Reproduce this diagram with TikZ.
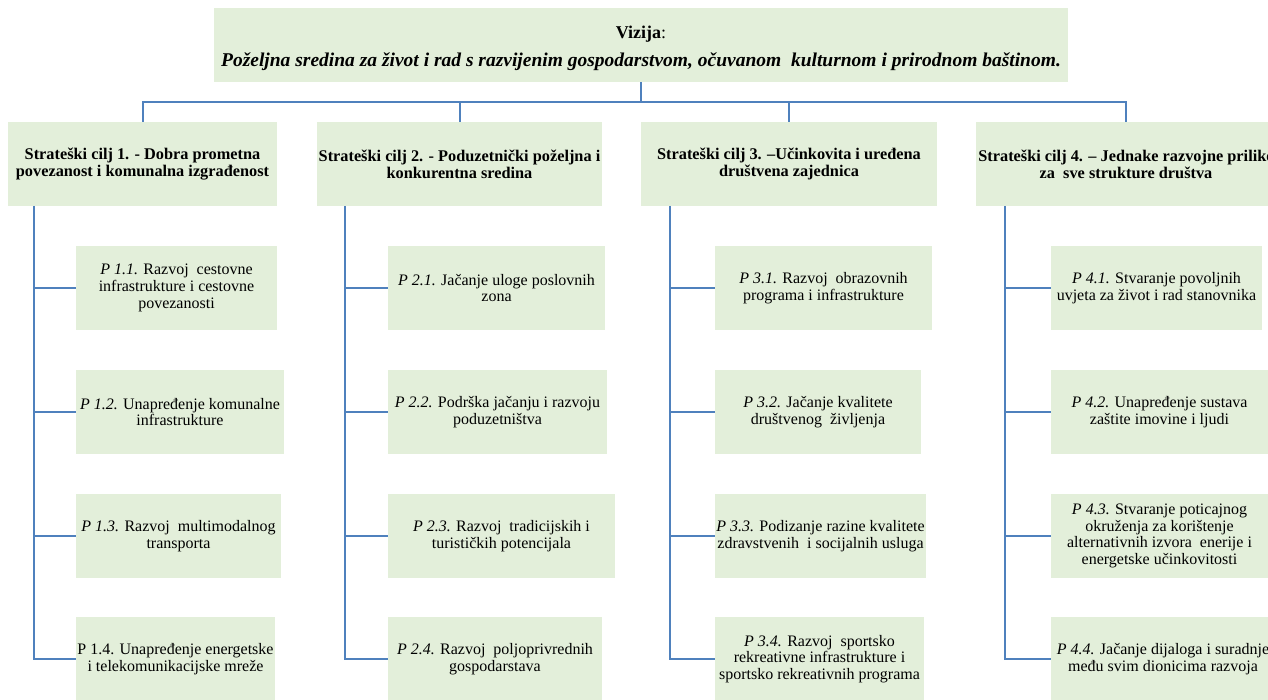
\documentclass[tikz,border=0pt]{standalone}
\usepackage{fontspec}
\setmainfont{Liberation Serif}
\definecolor{boxfill}{HTML}{E3EFDA}
\definecolor{linecol}{HTML}{4F81BD}
\tikzset{
  box/.style={fill=boxfill, draw=none, align=center, inner sep=1pt,
    font=\fontsize{16}{16.8}\selectfont},
  goalbox/.style={box, font=\fontsize{16.3}{17.2}\selectfont\bfseries,
    minimum height=84pt},
  subbox/.style={box, minimum height=84pt},
  conn/.style={draw=linecol, line width=2pt}
}
\begin{document}
\begin{tikzpicture}[x=1pt,y=-1pt]
\useasboundingbox (0,0) rectangle (1268,700);
% vision
\node[box, minimum width=854pt, minimum height=74pt] (top) at (641,45)
  {{\fontsize{18}{19}\selectfont\rule{0pt}{19pt}\textbf{Vizija}:}\\[9pt]
   {\fontsize{19.5}{20}\selectfont\bfseries\itshape Poželjna sredina za život i rad s razvijenim gospodarstvom, očuvanom\ \ kulturnom i prirodnom baštinom.}};
% goals
\node[goalbox, minimum width=269pt] (g1) at (142.5,164)
  {Strateški cilj 1. - Dobra prometna\\povezanost i komunalna izgrađenost};
\node[goalbox, minimum width=285pt] (g2) at (459.5,164)
  {Strateški cilj 2. - Poduzetnički poželjna i\\konkurentna sredina};
\node[goalbox, minimum width=296pt] (g3) at (789,164)
  {Strateški cilj 3. –Učinkovita i uređena\\društvena zajednica};
\node[goalbox, minimum width=300pt] (g4) at (1126,164)
  {Strateški cilj 4. – Jednake razvojne prilike\\za\ \ sve strukture društva};
% column 1
\node[subbox, minimum width=201pt] (p11) at (176.5,288)
  {\textit{P 1.1.} Razvoj\ \ cestovne\\infrastrukture i cestovne\\povezanosti};
\node[subbox, minimum width=208pt] (p12) at (180,412)
  {\textit{P 1.2.} Unapređenje komunalne\\infrastrukture};
\node[subbox, minimum width=205pt] (p13) at (178.5,536)
  {\textit{P 1.3.} Razvoj\ \ multimodalnog\\transporta};
\node[subbox, minimum width=199pt] (p14) at (175.5,659)
  {P 1.4. Unapređenje energetske\\i telekomunikacijske mreže};
% column 2
\node[subbox, minimum width=217pt] (p21) at (496.5,288)
  {\textit{P 2.1.} Jačanje uloge poslovnih\\zona};
\node[subbox, minimum width=219pt] (p22) at (497.5,412)
  {\textit{P 2.2.} Podrška jačanju i razvoju\\poduzetništva};
\node[subbox, minimum width=227pt] (p23) at (501.5,536)
  {\textit{P 2.3.} Razvoj\ \ tradicijskih i\\turističkih potencijala};
\node[subbox, minimum width=214pt] (p24) at (495,659)
  {\textit{P 2.4.} Razvoj\ \ poljoprivrednih\\gospodarstava};
% column 3
\node[subbox, minimum width=217pt] (p31) at (823.5,288)
  {\textit{P 3.1.} Razvoj\ \ obrazovnih\\programa i infrastrukture};
\node[subbox, minimum width=206pt] (p32) at (818,412)
  {\textit{P 3.2.} Jačanje kvalitete\\društvenog\ \ življenja};
\node[subbox, minimum width=211pt] (p33) at (820.5,536)
  {\textit{P 3.3.} Podizanje razine kvalitete\\zdravstvenih\ \ i socijalnih usluga};
\node[subbox, minimum width=209pt] (p34) at (819.5,659)
  {\textit{P 3.4.} Razvoj\ \ sportsko\\rekreativne infrastrukture i\\sportsko rekreativnih programa};
% column 4
\node[subbox, minimum width=211pt] (p41) at (1156.5,288)
  {\textit{P 4.1.} Stvaranje povoljnih\\uvjeta za život i rad stanovnika};
\node[subbox, minimum width=217pt] (p42) at (1159.5,412)
  {\textit{P 4.2.} Unapređenje sustava\\zaštite imovine i ljudi};
\node[subbox, minimum width=217pt] (p43) at (1159.5,536)
  {\textit{P 4.3.} Stvaranje poticajnog\\okruženja za korištenje\\alternativnih izvora\ \ enerije i\\energetske učinkovitosti};
\node[subbox, minimum width=224pt] (p44) at (1163,659)
  {\textit{P 4.4.} Jačanje dijaloga i suradnje\\među svim dionicima razvoja};
% top connectors
\coordinate (bus) at (641,102);
\draw[conn] (top.south) -- (top.south |- bus);
\draw[conn] (g1.north) -- (g1.north |- bus) -| (g4.north);
\draw[conn] (g2.north) -- (g2.north |- bus);
\draw[conn] (g3.north) -- (g3.north |- bus);
% spines
\coordinate (s1) at (34,206);
\coordinate (s2) at (345,206);
\coordinate (s3) at (670,206);
\coordinate (s4) at (1005,206);
\foreach \c in {1,2,3,4}{
  \draw[conn] (s\c) |- (p\c4.west);
  \foreach \r in {1,2,3}{
    \draw[conn] (p\c\r.west) -- (p\c\r.west -| s\c);
  }
}
\end{tikzpicture}
\end{document}
